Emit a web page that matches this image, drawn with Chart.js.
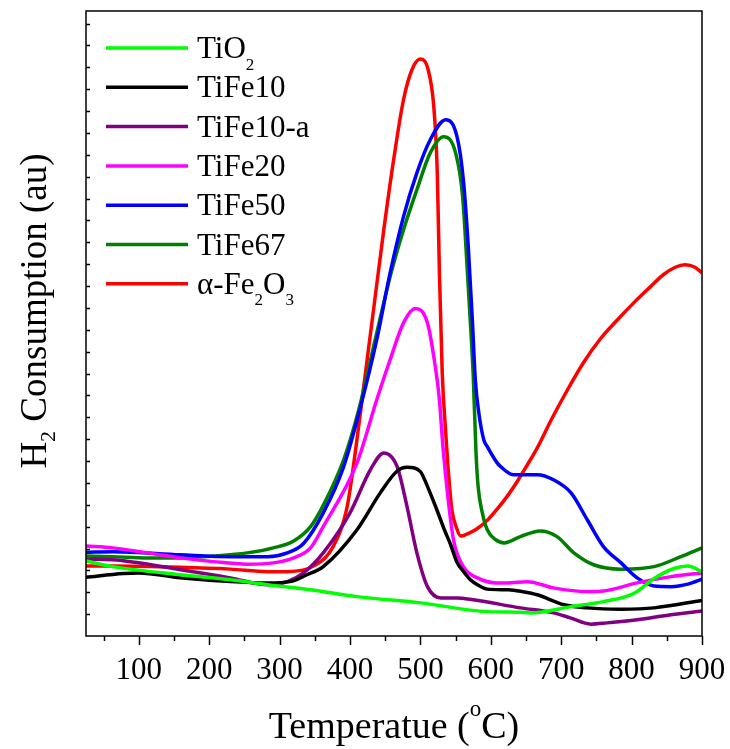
<!DOCTYPE html>
<html>
<head>
<meta charset="utf-8">
<title>H2-TPR profiles</title>
<script src="https://cdn.jsdelivr.net/npm/chart.js@4.4.1/dist/chart.umd.min.js"></script>
<style>
  html, body { margin: 0; padding: 0; background: #fff; }
  #wrap { width: 730px; height: 749px; }
</style>
</head>
<body>
<div id="wrap"><canvas id="tprChart" width="730" height="749"></canvas></div>
<script>
// temperatures (°C) and H2 consumption (au) for each sample
const tio2T = [25, 63, 159, 230, 283, 344, 410, 500, 595, 642, 657, 714, 760, 803, 832, 860, 880, 900];
const tio2H = [12.0, 11.1, 9.8, 9.0, 8.2, 7.4, 6.3, 5.3, 3.9, 3.8, 3.7, 4.7, 5.5, 6.8, 9.2, 10.8, 11.2, 10.3];

const tife10T = [25, 78, 100, 159, 230, 283, 315, 339, 362, 410, 443, 467, 481, 500, 504, 524, 533, 543, 552, 562, 571, 581, 595, 625, 645, 666, 704, 737, 785, 832, 900];
const tife10H = [9.4, 10.0, 10.1, 9.3, 8.7, 8.5, 8.7, 9.8, 11.1, 17.0, 22.9, 26.4, 27.0, 26.3, 25.5, 20.0, 17.3, 14.6, 11.8, 10.2, 9.0, 8.2, 7.5, 7.4, 7.1, 6.6, 5.0, 4.5, 4.3, 4.5, 5.7];

const tife10aT = [25, 63, 159, 230, 283, 311, 334, 362, 400, 429, 448, 467, 481, 495, 510, 529, 552, 575, 642, 689, 713, 742, 765, 808, 856, 900];
const tife10aH = [12.3, 12.2, 10.6, 9.3, 8.2, 8.7, 10.1, 13.3, 19.7, 26.6, 29.3, 27.1, 20.7, 13.3, 7.9, 6.1, 6.1, 5.8, 4.5, 3.7, 2.9, 1.9, 2.1, 2.6, 3.4, 4.0];

const tife20T = [25, 63, 112, 159, 206, 254, 291, 320, 344, 362, 410, 438, 457, 476, 493, 510, 519, 527, 532, 539, 547, 561, 581, 609, 623, 652, 689, 737, 760, 808, 856, 900];
const tife20H = [14.4, 14.1, 13.3, 12.5, 11.9, 11.5, 11.7, 12.5, 14.1, 17.5, 27.7, 37.8, 44.2, 50.1, 52.4, 50.1, 44.7, 37.8, 30.3, 22.3, 15.4, 11.1, 9.3, 8.5, 8.5, 8.7, 7.7, 7.1, 7.2, 8.5, 9.5, 10.1];

const tife50T = [25, 63, 159, 230, 283, 311, 334, 362, 391, 415, 438, 457, 476, 495, 514, 536, 552, 561, 568, 574, 578, 583, 590, 595, 609, 614, 632, 666, 689, 714, 737, 760, 785, 808, 832, 856, 880, 900];
const tife50H = [13.4, 13.5, 13.0, 12.7, 12.7, 13.3, 14.8, 19.7, 27.1, 36.7, 47.4, 58.1, 67.1, 74.1, 79.4, 82.6, 79.9, 73.0, 62.3, 50.1, 41.0, 35.7, 31.4, 30.3, 27.7, 27.1, 25.8, 25.8, 25.0, 22.9, 18.6, 14.3, 11.7, 9.3, 8.0, 7.9, 8.3, 9.1];

const tife67T = [25, 63, 112, 159, 206, 254, 291, 320, 344, 362, 391, 412, 438, 457, 476, 495, 514, 533, 550, 560, 566, 571, 575, 579, 582, 588, 595, 607, 619, 642, 670, 694, 718, 746, 785, 832, 870, 900];
const tife67H = [12.8, 12.7, 12.5, 12.5, 12.8, 13.3, 14.1, 15.2, 17.5, 20.9, 28.2, 36.0, 48.5, 57.5, 65.0, 71.4, 77.3, 79.9, 77.3, 70.3, 59.7, 50.1, 41.8, 29.3, 23.9, 19.7, 17.0, 15.4, 14.9, 15.9, 16.8, 15.9, 13.3, 11.4, 10.7, 11.1, 12.7, 14.1];

const fe2o3T = [25, 63, 159, 230, 283, 311, 350, 376, 396, 408, 418, 434, 448, 462, 476, 488, 500, 511, 519, 524, 527, 531, 536, 541, 545, 551, 557, 570, 581, 595, 609, 623, 638, 652, 666, 685, 709, 732, 756, 780, 803, 827, 845, 862, 876, 890, 900];
const fe2o3H = [11.2, 11.2, 11.0, 10.7, 10.3, 10.3, 11.3, 14.3, 20.7, 29.8, 38.6, 52.7, 65.0, 76.2, 85.8, 90.6, 92.3, 90.6, 84.7, 74.1, 58.1, 42.1, 32.5, 24.5, 20.0, 17.4, 16.0, 16.5, 17.2, 18.5, 20.3, 22.3, 24.8, 27.4, 30.1, 34.4, 39.4, 43.8, 47.6, 50.6, 53.3, 55.9, 57.8, 59.0, 59.4, 59.0, 58.1];

const xTickValues = [100, 200, 300, 400, 500, 600, 700, 800, 900];

// legend labels; [text, baseline shift px, size factor] pieces for subscripts
const seriesNames = [
  [["TiO"], ["2", 12, 0.55]],
  [["TiFe10"]],
  [["TiFe10-a"]],
  [["TiFe20"]],
  [["TiFe50"]],
  [["TiFe67"]],
  [["\u03b1-Fe"], ["2", 11, 0.55], ["O"], ["3", 11, 0.55]]
];
const seriesColors = ["#00ff00", "#000000", "#800080", "#ff00ff", "#0000ff", "#008000", "#ff0000"];
const seriesT = [tio2T, tife10T, tife10aT, tife20T, tife50T, tife67T, fe2o3T];
const seriesH = [tio2H, tife10H, tife10aH, tife20H, tife50H, tife67H, fe2o3H];

const serif = '"Liberation Serif", "Times New Roman", serif';

const datasets = seriesT.map((temps, i) => ({
  label: seriesNames[i].map((p) => p[0]).join(""),
  data: temps.map((t, j) => ({ x: t, y: seriesH[i][j] })),
  borderColor: seriesColors[i],
  borderWidth: 3.5,
  pointRadius: 0,
  fill: false,
  cubicInterpolationMode: "monotone",
}));

// draws a run of text pieces left to right, returns total width
const drawRich = (ctx, parts, x, y, size, measureOnly) => {
  let cx = x;
  parts.forEach(([text, shift = 0, scale = 1]) => {
    ctx.font = `${Math.round(size * scale)}px ${serif}`;
    if (!measureOnly) ctx.fillText(text, cx, y + shift);
    cx += ctx.measureText(text).width;
  });
  return cx - x;
};

const decorations = {
  id: "decorations",
  afterDatasetsDraw(chart) {
    const { ctx, chartArea: a, scales } = chart;
    const xs = scales.x;
    const ys = scales.y;
    ctx.save();
    ctx.strokeStyle = "#000";
    ctx.fillStyle = "#000";
    ctx.lineWidth = 1.5;
    ctx.strokeRect(a.left, a.top, a.right - a.left, a.bottom - a.top);

    // bottom ticks, outward: long at labels, short between
    ctx.beginPath();
    for (let t = 50; t <= 900; t += 50) {
      const px = Math.round(xs.getPixelForValue(t)) + 0.5;
      const len = t % 100 === 0 ? 9 : 5;
      ctx.moveTo(px, a.bottom);
      ctx.lineTo(px, a.bottom + len);
    }
    // left axis, short inward ticks only
    for (let v = 3.5; v < 100; v += 3.5) {
      const py = Math.round(ys.getPixelForValue(v)) + 0.5;
      ctx.moveTo(a.left, py);
      ctx.lineTo(a.left + 4, py);
    }
    ctx.stroke();

    // legend inside the plot
    ctx.textBaseline = "alphabetic";
    ctx.textAlign = "left";
    seriesNames.forEach((parts, i) => {
      const ly = 48 + i * 39.3;
      ctx.strokeStyle = seriesColors[i];
      ctx.lineWidth = 3.5;
      ctx.beginPath();
      ctx.moveTo(106, ly);
      ctx.lineTo(188, ly);
      ctx.stroke();
      drawRich(ctx, parts, 197, ly + 10, 31);
    });

    // axis titles
    const xTitle = [["Temperatue ("], ["o", -22, 0.6], ["C)"]];
    const xw = drawRich(ctx, xTitle, 0, 0, 38, true);
    drawRich(ctx, xTitle, (a.left + a.right) / 2 - xw / 2, 738, 38);

    const yTitle = [["H"], ["2", 9, 0.6], [" Consumption (au)"]];
    const yw = drawRich(ctx, yTitle, 0, 0, 37, true);
    ctx.translate(46, 311);
    ctx.rotate(-Math.PI / 2);
    drawRich(ctx, yTitle, -yw / 2, 0, 37);
    ctx.restore();
  },
};

new Chart(document.getElementById("tprChart"), {
  type: "line",
  data: { datasets },
  options: {
    responsive: false,
    animation: false,
    layout: { padding: { left: 86, right: 28, top: 11, bottom: 0 } },
    plugins: { legend: { display: false }, tooltip: { enabled: false } },
    scales: {
      x: {
        type: "linear",
        min: 25,
        max: 900,
        afterBuildTicks: (s) => {
          s.ticks = xTickValues.map((v) => ({ value: v }));
        },
        afterFit: (s) => {
          s.height = 113;
          s.paddingLeft = 0;
          s.paddingRight = 0;
        },
        grid: { display: false, drawTicks: false },
        border: { display: false },
        ticks: {
          color: "#000",
          padding: 16,
          maxRotation: 0,
          autoSkip: false,
          font: { family: serif, size: 31 },
        },
      },
      y: { display: false, min: 0, max: 100 },
    },
  },
  plugins: [decorations],
});
</script>
</body>
</html>
